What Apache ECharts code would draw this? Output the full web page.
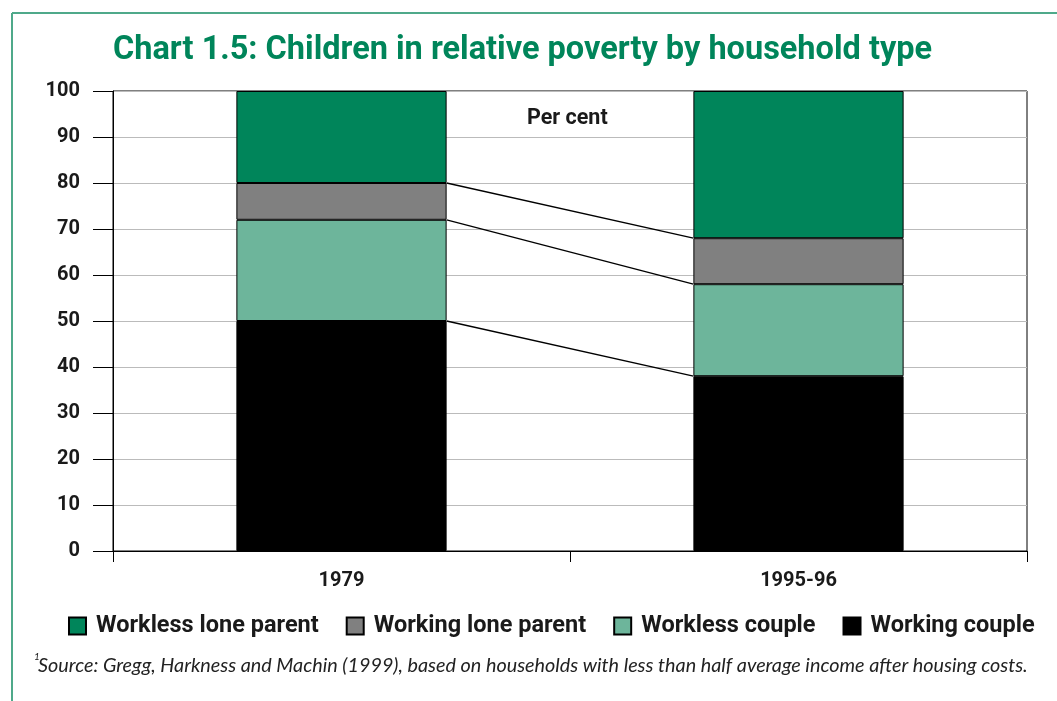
<!DOCTYPE html>
<html>
<head>
<meta charset="utf-8">
<script src="https://cdn.jsdelivr.net/npm/echarts@6/dist/echarts.min.js"></script>
<style>
  html, body { margin: 0; padding: 0; background: #fff; }
  #chart { width: 1057px; height: 701px; }
</style>
</head>
<body>
<div id="chart"></div>
<script>
// data (per cent of children in poverty)
var years = ['1979', '1995-96'];
var workingCouple = [50, 38];
var worklessCouple = [22, 20];
var workingLone = [8, 10];
var worklessLone = [20, 32];
var yTicks = [0, 100, 10]; // min, max, step

var font = 'Roboto';
var heavy = 'bold';
var green = '#00855a';

// cumulative tops used for the joining lines between the two bars
function cumulative(idx) {
    var a = workingCouple[idx];
    var b = a + worklessCouple[idx];
    var c = b + workingLone[idx];
    return [a, b, c];
}
var left = cumulative(0);
var right = cumulative(1);
var joins = left.map(function (v, i) { return [0, v, right[i]]; });

var chartDom = document.getElementById('chart');
var myChart = echarts.init(chartDom);

var barStyle = function (color) {
    return { color: color, borderColor: '#000', borderWidth: 1 };
};

var option = {
    animation: false,
    title: [
        {
            text: 'Chart 1.5: Children in relative poverty by household type',
            left: 113, top: 34, padding: 0,
            textStyle: { color: green, fontFamily: font, fontWeight: heavy, fontSize: 32.5 }
        },
        {
            text: 'Per cent',
            left: 527, top: 108, padding: 0,
            textStyle: { color: '#1a1a1a', fontFamily: font, fontWeight: heavy, fontSize: 21.5 }
        }
    ],
    graphic: [
        { type: 'line', shape: { x1: 12, y1: 13, x2: 1057, y2: 13 }, style: { stroke: '#4fa98a', lineWidth: 2 } },
        { type: 'line', shape: { x1: 12, y1: 13, x2: 12, y2: 701 }, style: { stroke: '#4fa98a', lineWidth: 2 } },
        { type: 'text', left: 34, top: 652, style: { text: '1', fill: '#222', font: 'italic 10px Lato' } },
        {
            type: 'text', left: 38, top: 656,
            style: {
                text: 'Source: Gregg, Harkness and Machin (1999), based on households with less than half average income after housing costs.',
                fill: '#222', font: 'italic 19.8px Lato'
            }
        }
    ],
    legend: {
        data: ['Workless lone parent', 'Working lone parent', 'Workless couple', 'Working couple'],
        left: 63, top: 609,
        icon: 'rect',
        itemWidth: 17, itemHeight: 17, itemGap: 27,
        textStyle: { fontFamily: font, fontWeight: heavy, fontSize: 23.5, color: '#1a1a1a', padding: [0, 0, 0, 5] }
    },
    grid: {
        left: 113, right: 30, top: 91, bottom: 150,
        show: true, borderColor: '#000', borderWidth: 1
    },
    xAxis: {
        type: 'category',
        data: years,
        axisLine: { lineStyle: { color: '#000', width: 1 } },
        axisTick: { show: true, length: 11, lineStyle: { color: '#000' } },
        axisLabel: { margin: 20, color: '#1a1a1a', fontFamily: font, fontWeight: heavy, fontSize: 20 }
    },
    yAxis: {
        type: 'value',
        min: yTicks[0], max: yTicks[1], interval: yTicks[2],
        axisLine: { show: true, lineStyle: { color: '#000', width: 1 } },
        axisTick: { show: true, length: 20, lineStyle: { color: '#000' } },
        axisLabel: { margin: 33, color: '#1a1a1a', fontFamily: font, fontWeight: heavy, fontSize: 20 },
        splitLine: { lineStyle: { color: '#bbbbbb', width: 1 } }
    },
    series: [
        { name: 'Working couple', type: 'bar', stack: 'all', barWidth: '46%', data: workingCouple, itemStyle: barStyle('#000000') },
        { name: 'Workless couple', type: 'bar', stack: 'all', data: worklessCouple, itemStyle: barStyle('#6db59b') },
        { name: 'Working lone parent', type: 'bar', stack: 'all', data: workingLone, itemStyle: barStyle('#808080') },
        { name: 'Workless lone parent', type: 'bar', stack: 'all', data: worklessLone, itemStyle: barStyle(green) },
        {
            name: 'joins',
            type: 'custom',
            data: joins,
            encode: { x: 0, y: 1 },
            z: 5,
            silent: true,
            renderItem: function (params, api) {
                var half = api.size([1, 0])[0] * 0.46 / 2;
                var p1 = api.coord([0, api.value(1)]);
                var p2 = api.coord([1, api.value(2)]);
                return {
                    type: 'line',
                    shape: { x1: p1[0] + half, y1: p1[1], x2: p2[0] - half, y2: p2[1] },
                    style: { stroke: '#000', lineWidth: 1.3 }
                };
            }
        }
    ]
};
myChart.setOption(option);
</script>
</body>
</html>
